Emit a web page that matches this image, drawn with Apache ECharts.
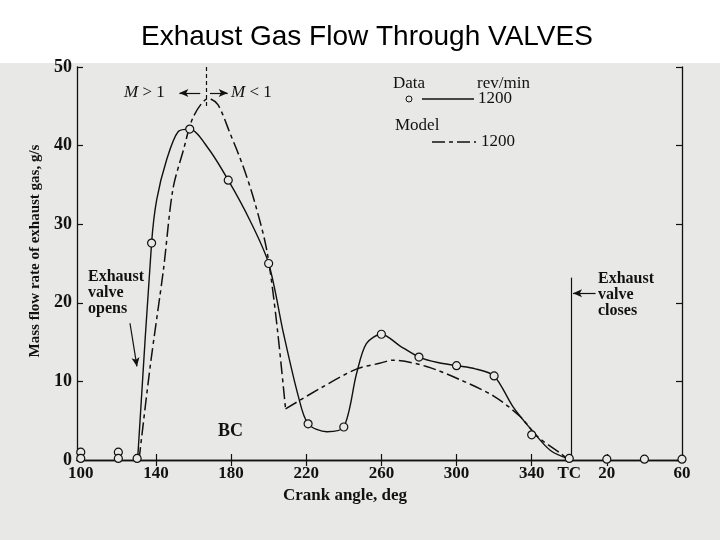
<!DOCTYPE html>
<html><head><meta charset="utf-8">
<script src="https://cdn.jsdelivr.net/npm/echarts@6/dist/echarts.min.js"></script>
<style>html,body{margin:0;padding:0;background:#fff}#c{width:720px;height:540px}</style>
</head><body><div id="c"></div>
<script>
// ---- Data ----
const dataAngle = [100, 100, 120, 120, 130, 137.7, 158, 178.5, 200, 221, 240, 260, 280, 300, 320, 340, 360, 380, 400, 420];
const dataFlow  = [1.0, 0.2, 1.0, 0.2, 0.2, 27.6, 42.1, 35.6, 25.0, 4.6, 4.2, 16.0, 13.1, 12.0, 10.7, 3.2, 0.2, 0.1, 0.1, 0.1];

const dataCurveAngle = [130.3, 137.7, 140.4, 145.7, 151.9, 158, 168, 178.5, 190, 200, 208, 215.8, 221, 231, 240, 246.8, 252, 260, 270, 280, 290, 300, 310, 320, 330, 340, 350, 360];
const dataCurveFlow  = [0.2, 27.6, 33.1, 38.2, 41.8, 42.1, 39.6, 35.6, 30.5, 25.0, 16.0, 8.1, 4.6, 3.6, 4.2, 11.0, 14.8, 16.0, 14.5, 13.1, 12.4, 12.0, 11.6, 10.7, 6.8, 3.8, 1.2, 0.1];

// model curve: rising/falling branch up to the sharp minimum, then the second branch
const modelAngleA = [131, 137, 144, 149, 154.6, 160, 168, 173, 179.4, 186.5, 192.7, 199, 204, 209];
const modelFlowA  = [0, 12, 24.2, 34.4, 39.4, 43.7, 46.0, 45.2, 41.6, 37.3, 32.7, 26.7, 18.0, 6.5];
const modelAngleB = [209, 228, 247, 259, 266, 284, 302, 320, 334, 343, 355, 360];
const modelFlowB  = [6.5, 9.2, 11.6, 12.3, 12.7, 11.9, 10.2, 8.1, 5.5, 3.0, 0.9, 0];

const xTickValues = [100, 140, 180, 220, 260, 300, 340, 360, 380, 420];
const xTickLabels = ['100', '140', '180', '220', '260', '300', '340', 'TC', '20', '60'];
const xTickMarks  = [140, 180, 220, 260, 300, 340, 380];
const yTickInterval = 10;

const titleText = 'Exhaust Gas Flow Through VALVES';
const xName = 'Crank angle, deg';
const yName = 'Mass flow rate of exhaust gas, g/s';

// ---- Chart ----
const INK = '#111';
const BG = '#e8e8e6';
const SERIF = "'Liberation Serif','DejaVu Serif',serif";
const zip = (a, b) => a.map((v, i) => [v, b[i]]);

const chart = echarts.init(document.getElementById('c'), null, {renderer: 'canvas'});

const arrowEnd = (p1, p2) => [
  {coord: p1, symbol: 'none'},
  {coord: p2, symbol: 'arrow', symbolSize: [6, 9]}
];
const plain = (p1, p2, type) => [
  {coord: p1, symbol: 'none', lineStyle: {type: type || 'solid'}},
  {coord: p2, symbol: 'none'}
];
const modelStyle = {color: INK, width: 1.5, type: [13, 4, 4, 4]};

const option = {
  animation: false,
  backgroundColor: {
    type: 'linear', x: 0, y: 0, x2: 0, y2: 1,
    colorStops: [
      {offset: 0, color: '#ffffff'},
      {offset: 63 / 540, color: '#ffffff'},
      {offset: 63 / 540, color: BG},
      {offset: 1, color: BG}
    ]
  },
  title: {
    text: titleText, left: 136, top: 18,
    textStyle: {fontFamily: "'Liberation Sans',Arial,sans-serif", fontWeight: 'normal', fontSize: 28, color: '#000'}
  },
  grid: {left: 77, right: 38, top: 67, bottom: 80},
  xAxis: [
    {
      type: 'value', min: 98, max: 420, position: 'bottom',
      axisLine: {lineStyle: {color: INK, width: 1.3}},
      axisTick: {inside: true, length: 6, customValues: xTickMarks, lineStyle: {color: INK, width: 1.2}},
      axisLabel: {
        customValues: xTickValues,
        formatter: v => xTickLabels[xTickValues.indexOf(Math.round(v))] || '',
        fontFamily: SERIF, fontSize: 17, color: INK, margin: 5, fontWeight: 'bold'
      },
      splitLine: {show: false},
      name: xName, nameLocation: 'middle', nameGap: 24,
      nameTextStyle: {fontFamily: SERIF, fontWeight: 'bold', fontSize: 17, color: INK, padding: [0, 69, 0, 0]}
    },
    {
      type: 'value', min: 98, max: 420, position: 'top',
      axisLine: {lineStyle: {color: INK, width: 1.3}},
      axisTick: {inside: true, length: 6, customValues: xTickMarks, lineStyle: {color: INK, width: 1.2}},
      axisLabel: {show: false}, splitLine: {show: false}
    }
  ],
  yAxis: [
    {
      type: 'value', min: 0, max: 50, interval: yTickInterval, position: 'left',
      axisLine: {show: true, lineStyle: {color: INK, width: 1.3}},
      axisTick: {show: true, inside: true, length: 6, lineStyle: {color: INK, width: 1.2}},
      axisLabel: {fontFamily: SERIF, fontSize: 18, color: INK, margin: 5, fontWeight: 'bold'},
      splitLine: {show: false},
      name: yName, nameLocation: 'middle', nameGap: 31,
      nameTextStyle: {fontFamily: SERIF, fontWeight: 'bold', fontSize: 15, color: INK, padding: [0, 0, 0, 25]}
    },
    {
      type: 'value', min: 0, max: 50, interval: yTickInterval, position: 'right',
      axisLine: {show: true, lineStyle: {color: INK, width: 1.3}},
      axisTick: {show: true, inside: true, length: 6, lineStyle: {color: INK, width: 1.2}},
      axisLabel: {show: false}, splitLine: {show: false}
    }
  ],
  series: [
    {
      name: 'Data curve', type: 'line', smooth: 0.3, showSymbol: false, silent: true,
      data: zip(dataCurveAngle, dataCurveFlow),
      lineStyle: {color: INK, width: 1.4}, z: 3
    },
    {
      name: 'Model', type: 'line', smooth: 0.3, showSymbol: false, silent: true,
      data: zip(modelAngleA, modelFlowA), lineStyle: modelStyle, z: 3
    },
    {
      name: 'Model', type: 'line', smooth: 0.3, showSymbol: false, silent: true,
      data: zip(modelAngleB, modelFlowB), lineStyle: modelStyle, z: 3
    },
    {
      name: 'Data', type: 'scatter', symbol: 'circle', symbolSize: 8,
      data: zip(dataAngle, dataFlow),
      itemStyle: {color: BG, borderColor: INK, borderWidth: 1.2, opacity: 1}, z: 5
    },
    {
      name: 'annotations', type: 'line', data: [], silent: true,
      markLine: {
        silent: true, label: {show: false},
        lineStyle: {color: INK, width: 1.2, type: 'solid'},
        emphasis: {disabled: true},
        data: [
          plain([166.7, 50], [166.7, 45.0], [4, 3]),
          arrowEnd([163.6, 46.7], [152.5, 46.7]),
          arrowEnd([168.8, 46.7], [178.2, 46.7]),
          plain([361, 0], [361, 23.2]),
          arrowEnd([374, 21.2], [362, 21.2]),
          arrowEnd([126.2, 17.4], [129.9, 11.9])
        ]
      }
    }
  ],
  graphic: [
    // legend
    {type: 'text', left: 393, top: 75, style: {text: 'Data', font: "17px " + SERIF, fill: INK}},
    {type: 'text', left: 477, top: 75, style: {text: 'rev/min', font: "17px " + SERIF, fill: INK}},
    {type: 'circle', shape: {cx: 409, cy: 99, r: 3}, style: {fill: BG, stroke: INK, lineWidth: 1}},
    {type: 'line', shape: {x1: 422, y1: 99, x2: 474, y2: 99}, style: {stroke: INK, lineWidth: 1.3}},
    {type: 'text', left: 478, top: 90, style: {text: '1200', font: "17px " + SERIF, fill: INK}},
    {type: 'text', left: 395, top: 117, style: {text: 'Model', font: "17px " + SERIF, fill: INK}},
    {type: 'line', shape: {x1: 432, y1: 142, x2: 476, y2: 142}, style: {stroke: INK, lineWidth: 1.5, lineDash: [13, 4, 4, 4]}},
    {type: 'text', left: 481, top: 133, style: {text: '1200', font: "17px " + SERIF, fill: INK}},
    // Mach annotations
    {type: 'text', left: 124, top: 84, style: {text: '{i|M} > 1', font: "17px " + SERIF, fill: INK,
      rich: {i: {fontStyle: 'italic', fontFamily: SERIF, fontSize: 17, fill: INK}}}},
    {type: 'text', left: 231, top: 84, style: {text: '{i|M} < 1', font: "17px " + SERIF, fill: INK,
      rich: {i: {fontStyle: 'italic', fontFamily: SERIF, fontSize: 17, fill: INK}}}},
    // valve annotations
    {type: 'text', left: 88, top: 269, style: {text: 'Exhaust\nvalve\nopens', font: "bold 16px " + SERIF, fill: INK, lineHeight: 16}},
    {type: 'text', left: 598, top: 271, style: {text: 'Exhaust\nvalve\ncloses', font: "bold 16px " + SERIF, fill: INK, lineHeight: 16}},
    {type: 'text', left: 218, top: 422, style: {text: 'BC', font: "bold 18px " + SERIF, fill: INK}}
  ]
};
chart.setOption(option);
</script>
</body></html>
